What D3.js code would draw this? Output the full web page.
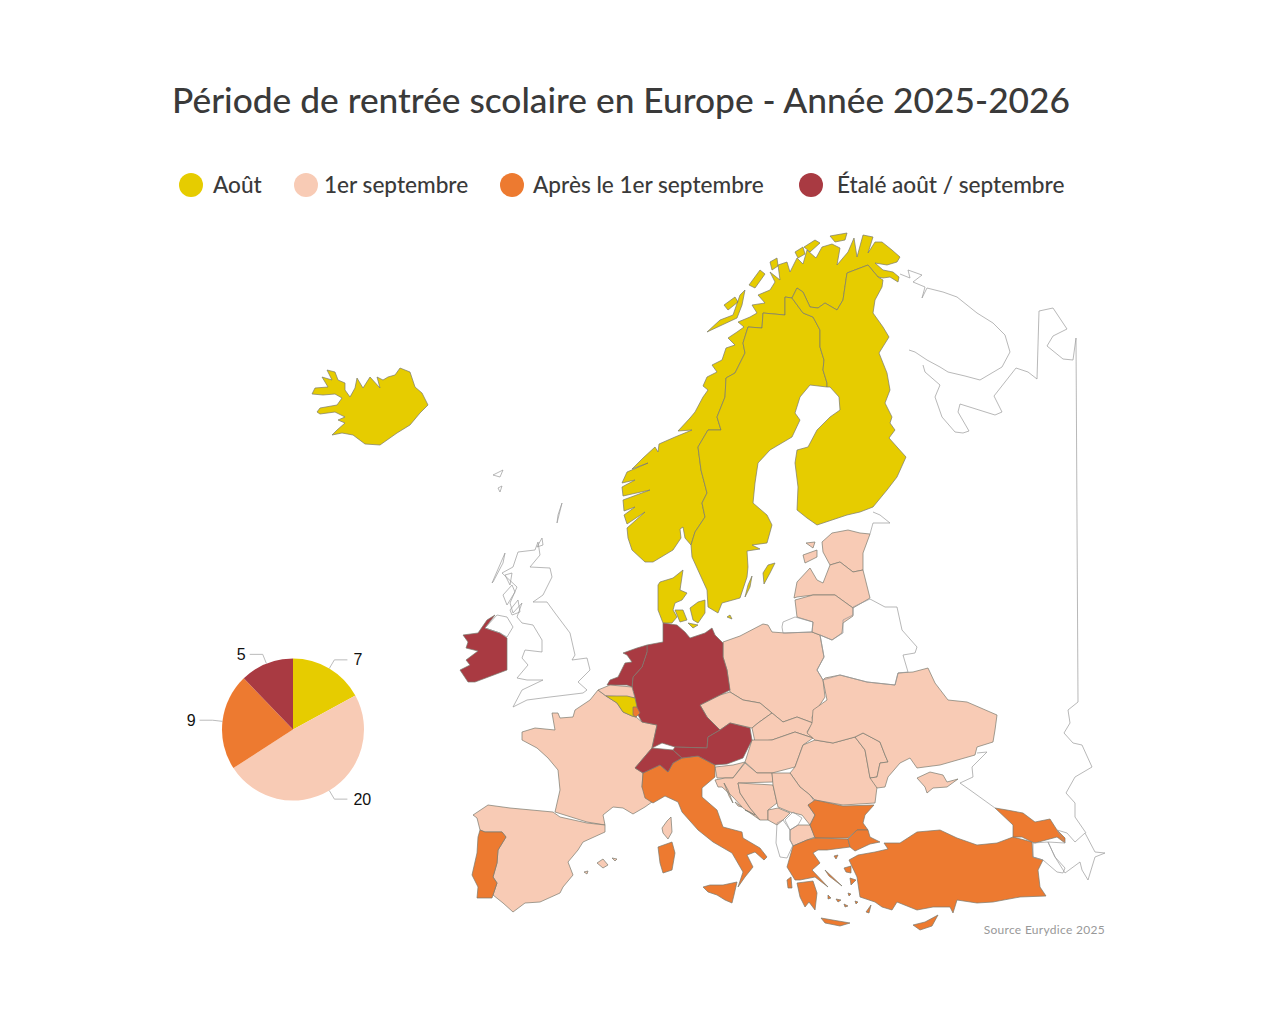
<!DOCTYPE html>
<html lang="fr">
<head>
<meta charset="utf-8">
<title>Période de rentrée scolaire en Europe</title>
<script src="https://cdn.jsdelivr.net/npm/d3@7"></script>
<style>
  html, body { margin: 0; background: #fff; }
  svg { display: block; }
  text { font-family: Lato, "Noto Sans", sans-serif; }
</style>
</head>
<body>
<svg id="chart" width="1280" height="1024"></svg>
<script>
// categories and pie values
const categories = ["Août", "1er septembre", "Après le 1er septembre", "Étalé août / septembre"];
const categoryColors = ["#e6cc00", "#f8cbb5", "#ed7a30", "#a93a42"];
const pieValues = [7, 20, 9, 5];

// country outlines, in map units
const norway = [[868,265],[847,273],[843,300],[837,310],[825,303],[818,308],[810,307],[803,292],[797,288],[792,298],[785,297],[785,315],[763,313],[762,328],[748,327],[743,343],[745,353],[735,373],[726,378],[725,397],[717,417],[721,430],[708,430],[698,447],[701,470],[707,493],[702,503],[705,517],[695,532],[691,545],[685,538],[683,527],[680,529],[681,538],[673,550],[653,562],[645,562],[632,550],[628,538],[627,528],[645,512],[627,524],[624,515],[635,507],[624,511],[623,500],[650,490],[623,496],[622,487],[635,480],[622,483],[627,472],[648,463],[632,469],[643,458],[655,447],[658,452],[659,444],[675,437],[692,430],[678,431],[690,418],[695,412],[703,397],[708,390],[703,386],[707,377],[717,372],[712,365],[722,360],[726,348],[735,345],[728,338],[737,332],[744,327],[738,322],[750,317],[757,313],[752,305],[765,303],[758,295],[770,290],[775,282],[770,272],[780,280],[778,265],[787,262],[790,272],[797,258],[803,264],[807,250],[816,258],[822,247],[832,244],[840,248],[837,265],[848,252],[854,238],[857,257],[863,235],[873,237],[868,253],[875,242],[882,242],[892,250],[900,257],[897,262],[887,265],[875,263],[883,270],[893,272],[899,277],[898,282],[890,277],[883,278],[878,277]];
const norwayIslands = [[[707,332],[720,320],[733,315],[740,295],[745,290],[742,305],[737,318],[722,325]], [[724,305],[735,297],[738,302],[728,310]], [[749,285],[760,270],[765,274],[755,288]], [[804,247],[815,240],[820,243],[810,252]], [[830,236],[847,233],[845,240],[835,242]], [[770,262],[777,258],[778,266],[772,270]], [[795,252],[803,247],[805,254],[798,258]]];
const sweden = [[792,298],[803,313],[813,317],[820,330],[820,347],[824,360],[823,370],[827,383],[827,387],[810,385],[800,397],[795,413],[800,420],[792,437],[770,450],[758,463],[755,483],[753,503],[767,515],[772,525],[767,543],[752,545],[760,549],[747,551],[748,567],[747,577],[740,598],[722,603],[718,613],[708,607],[707,590],[692,557],[691,545],[695,532],[705,517],[702,503],[707,493],[701,470],[698,447],[708,430],[721,430],[717,417],[725,397],[726,378],[735,373],[745,353],[743,343],[748,327],[762,328],[763,313],[785,315],[785,297]];
const swedenIslands = [[[764,584],[763,573],[768,565],[775,563],[770,573]], [[745,597],[748,585],[752,576],[750,587]]];
const finland = [[868,265],[878,277],[883,280],[882,287],[875,300],[873,313],[883,327],[889,337],[879,353],[887,373],[890,390],[885,403],[892,417],[890,423],[895,430],[889,438],[906,457],[897,477],[887,490],[873,507],[860,512],[847,515],[817,525],[807,518],[797,510],[798,487],[795,463],[797,450],[808,447],[817,430],[830,417],[840,410],[839,397],[830,387],[827,387],[827,383],[823,370],[824,360],[820,347],[820,330],[813,317],[803,313],[792,298],[797,288],[803,292],[810,307],[818,308],[825,303],[837,310],[843,300],[847,273]];
const iceland = [[350,397],[345,390],[345,383],[338,380],[335,372],[327,370],[332,380],[322,377],[328,387],[315,388],[312,394],[323,395],[335,394],[342,398],[337,405],[320,408],[317,412],[320,414],[335,412],[345,417],[338,420],[345,423],[337,430],[332,435],[342,433],[353,435],[365,444],[380,445],[397,433],[410,425],[420,413],[428,405],[422,393],[415,387],[410,372],[400,368],[395,375],[388,377],[383,380],[377,377],[380,388],[370,377],[363,388],[357,378],[355,388]];
const denmark = [[[658,585],[660,582],[673,578],[683,570],[680,590],[687,593],[682,600],[675,603],[673,610],[677,617],[672,623],[663,623],[658,610]], [[690,608],[698,602],[705,600],[705,613],[698,623],[693,620]], [[675,610],[683,610],[687,620],[680,622]], [[688,623],[698,625],[693,628]], [[727,617],[730,615],[732,619]]];
const germany = [[663,623],[677,625],[685,632],[690,638],[705,633],[712,628],[715,635],[723,643],[723,657],[727,670],[730,690],[720,695],[700,705],[707,717],[720,730],[708,737],[707,748],[675,747],[662,743],[652,748],[657,725],[642,722],[638,715],[635,698],[632,687],[633,677],[642,667],[647,652],[647,645],[663,642]];
const netherlands = [[647,645],[637,648],[623,653],[627,655],[632,662],[625,663],[623,667],[618,677],[610,680],[607,685],[615,685],[627,685],[632,687],[633,677],[642,667],[647,652]];
const flanders = [[598,690],[610,685],[632,687],[635,698],[627,697],[606,696]];
const belgium = [[606,696],[627,696],[635,698],[637,707],[636,717],[632,716],[623,712],[617,703]];
const eastBelgium = [[633,707],[637,707],[640,713],[636,717],[633,715]];
const france = [[598,690],[606,696],[617,703],[623,712],[632,716],[636,717],[642,722],[657,725],[652,748],[635,768],[643,773],[642,787],[652,802],[645,807],[633,814],[623,808],[613,807],[603,815],[605,825],[587,822],[555,812],[560,790],[558,770],[548,758],[537,748],[522,740],[522,732],[535,728],[555,730],[552,713],[558,713],[560,718],[573,717],[575,710],[590,700]];
const corsica = [[662,828],[667,821],[671,817],[672,832],[668,839],[663,833]];
const spain = [[473,815],[488,805],[510,808],[553,812],[560,817],[587,823],[605,825],[605,832],[583,842],[578,850],[568,862],[573,875],[563,887],[560,893],[540,902],[525,903],[513,912],[503,903],[493,895],[497,883],[493,877],[497,863],[498,850],[506,837],[502,832],[485,832],[480,830],[477,818]];
const balearics = [[[597,863],[603,859],[608,865],[603,868]], [[612,858],[617,859],[615,861]], [[584,872],[588,871],[587,874]]];
const portugal = [[480,830],[485,832],[502,832],[506,837],[498,850],[497,863],[493,877],[497,883],[493,895],[492,898],[477,898],[478,887],[472,875],[477,853],[478,837]];
const italy = [[643,773],[660,765],[668,772],[673,763],[682,758],[698,756],[715,765],[715,777],[702,788],[702,797],[717,810],[723,827],[742,832],[743,838],[760,848],[767,857],[764,860],[755,852],[747,855],[753,867],[745,877],[738,887],[743,872],[732,853],[713,842],[698,830],[682,812],[678,802],[665,796],[653,803],[645,798],[642,787]];
const sardinia = [[658,847],[672,842],[675,853],[672,870],[663,873],[660,863]];
const sicily = [[703,887],[710,885],[723,885],[737,882],[734,895],[732,903],[725,900],[717,895],[708,892]];
const switzerland = [[652,748],[673,750],[682,758],[673,763],[668,772],[660,765],[643,773],[635,768]];
const austria = [[673,750],[675,747],[707,748],[708,737],[720,730],[730,723],[750,728],[752,740],[747,750],[743,758],[727,764],[715,765],[698,756],[682,758]];
const poland = [[723,642],[740,636],[763,624],[768,625],[772,632],[785,633],[812,632],[820,635],[824,657],[817,670],[823,680],[825,697],[812,717],[813,723],[797,717],[783,722],[772,713],[760,703],[743,700],[730,692],[727,670],[723,657]];
const czechia = [[730,692],[743,700],[760,703],[772,713],[758,723],[752,728],[730,723],[720,730],[707,717],[700,705],[720,695]];
const slovakia = [[772,713],[783,722],[797,717],[813,723],[807,732],[813,738],[795,732],[772,740],[755,742],[752,728],[758,723]];
const hungary = [[752,740],[772,740],[795,732],[813,738],[803,745],[795,767],[772,773],[757,773],[745,762]];
const romania = [[815,740],[833,743],[855,737],[865,750],[870,777],[877,787],[875,803],[843,805],[815,800],[810,795],[800,787],[790,773],[795,767],[803,745]];
const moldova = [[855,737],[863,733],[880,742],[885,755],[888,762],[880,763],[877,777],[870,778],[865,750]];
const ukraine = [[825,678],[840,675],[867,682],[895,685],[898,673],[913,672],[928,668],[935,683],[948,700],[967,702],[997,715],[995,730],[993,742],[977,747],[975,755],[940,765],[917,768],[910,758],[900,763],[888,777],[885,787],[877,788],[870,778],[877,777],[880,763],[888,762],[885,755],[880,742],[863,733],[855,737],[833,743],[815,740],[807,733],[812,723],[813,710],[827,700],[823,680]];
const crimea = [[917,778],[930,772],[943,775],[947,782],[958,779],[947,787],[933,788],[927,793],[925,787]];
const slovenia = [[715,767],[733,765],[745,762],[733,778],[725,778],[717,778]];
const croatia = [[715,780],[725,778],[733,778],[745,763],[757,773],[772,773],[773,782],[738,783],[740,793],[750,808],[760,820],[743,808],[733,797],[722,787],[718,787]];
const dalmatianIslands = [[[724,783],[728,790],[733,803],[729,796]], [[745,810],[755,815],[750,812]], [[735,802],[742,807],[738,806]]];
const bosnia = [[738,783],[773,785],[777,803],[768,810],[768,820],[760,820],[750,808],[740,793]];
const serbia = [[772,773],[790,773],[800,787],[810,795],[815,802],[808,805],[815,815],[810,825],[802,815],[790,812],[778,807],[777,803],[773,785]];
const montenegro = [[768,810],[778,808],[790,813],[783,820],[777,825],[768,820]];
const northMacedonia = [[790,830],[798,825],[810,825],[815,837],[807,840],[793,846],[790,840]];
const bulgaria = [[815,800],[843,806],[874,805],[865,815],[863,823],[868,830],[857,830],[848,838],[815,838],[810,825],[815,815],[808,805]];
const greece = [[793,846],[807,840],[815,838],[848,839],[850,847],[827,850],[818,850],[813,853],[820,863],[812,870],[828,887],[815,877],[800,880],[795,880],[787,867]];
const peloponnese = [[797,883],[813,881],[817,893],[815,910],[809,902],[805,907],[800,897]];
const crete = [[821,918],[850,923],[840,926],[825,923]];
const aegeanIslands = [[[825,870],[842,886],[829,876]], [[844,868],[851,866],[851,873],[846,872]], [[850,878],[856,880],[851,885]], [[834,856],[838,855],[836,859]], [[848,893],[851,894],[849,896]], [[836,899],[841,900],[838,902]], [[855,901],[858,902],[856,904]], [[866,912],[871,905],[869,913]], [[828,895],[831,898],[828,899]], [[844,904],[848,906],[845,907]], [[787,880],[791,877],[792,888],[788,888]]];
const turkeyEurope = [[848,839],[857,830],[868,830],[870,837],[880,842],[870,844],[855,851],[850,847]];
const turkeyAsia = [[884,843],[900,843],[917,832],[940,830],[957,838],[977,845],[997,843],[1013,837],[1032,842],[1033,857],[1043,860],[1038,870],[1040,887],[1046,896],[1020,897],[993,902],[977,903],[957,900],[953,913],[950,907],[933,907],[917,910],[897,902],[892,910],[882,907],[875,902],[860,897],[857,877],[849,860],[858,855],[875,852],[888,849]];
const cyprus = [[913,925],[925,922],[938,915],[932,926],[920,930]];
const georgia = [[995,808],[1007,810],[1023,813],[1035,822],[1050,819],[1057,830],[1065,838],[1065,843],[1057,837],[1035,843],[1032,842],[1022,837],[1013,837],[1013,825]];
const estonia = [[822,542],[832,533],[848,530],[860,533],[870,534],[863,553],[863,570],[853,572],[840,562],[830,565],[823,552]];
const estoniaIslands = [[[803,555],[817,550],[817,557],[805,563]], [[806,543],[815,542],[813,548]]];
const latvia = [[794,598],[797,582],[810,568],[817,580],[823,583],[830,565],[840,562],[853,572],[863,570],[870,598],[853,608],[835,595],[813,595],[797,597]];
const lithuania = [[795,600],[813,595],[835,595],[853,608],[853,616],[843,623],[842,633],[832,640],[820,635],[812,632],[813,622],[797,617]];
const ireland = [[495,615],[485,628],[500,633],[507,638],[507,670],[475,682],[468,682],[460,670],[470,665],[466,660],[478,651],[466,648],[468,642],[463,635],[478,633],[487,620]];

// countries outside the scheme, unfilled
const belarus = [[853,607],[870,599],[885,607],[897,607],[902,630],[917,647],[915,653],[903,655],[908,672],[898,673],[895,685],[867,682],[840,675],[823,680],[817,670],[824,657],[820,635],[832,640],[843,633],[843,620],[853,615]];
const kaliningrad = [[783,622],[795,617],[813,622],[812,632],[783,633],[782,627]];
const greatBritain = [[518,552],[535,550],[538,542],[540,555],[530,567],[550,568],[552,577],[543,595],[533,602],[547,602],[555,613],[570,633],[575,655],[572,660],[587,658],[590,670],[578,682],[587,690],[583,693],[550,697],[527,700],[513,707],[522,690],[543,680],[527,680],[517,678],[528,665],[522,658],[525,650],[542,652],[542,640],[533,625],[522,623],[517,617],[522,603],[513,613],[510,603],[517,587],[502,573],[513,567]];
const northernIreland = [[497,615],[507,617],[513,627],[507,637],[500,633],[485,628]];
const northSeaIslands = [[[492,583],[505,553],[503,563],[493,582]], [[537,547],[542,538],[543,545]], [[557,523],[562,503],[558,515]], [[493,475],[503,470],[500,477]], [[498,488],[502,486],[500,492]], [[505,575],[512,573],[510,585]], [[503,595],[512,585],[515,592],[507,605]], [[510,610],[518,600],[520,612],[512,615]]];
const kosovo = [[785,820],[793,812],[802,818],[798,825],[790,830]];
const albania = [[777,823],[783,820],[790,830],[790,840],[793,845],[787,858],[780,857],[776,843]];
const armenia = [[1033,843],[1048,842],[1055,857],[1065,868],[1063,873],[1057,872],[1043,860],[1033,857]];
const azerbaijan = [[1048,842],[1065,843],[1057,830],[1067,833],[1075,842],[1085,833],[1095,852],[1105,853],[1095,857],[1088,880],[1082,870],[1080,862],[1065,873],[1055,857]];

// coast and border pieces of Russia, drawn as open lines
const russiaKola = [[900,274],[910,278],[908,270],[922,275],[913,282],[925,287],[922,298],[927,288],[943,292],[957,297],[977,313],[993,323],[1005,335],[1010,352],[1002,367],[980,380],[965,376],[948,372],[940,367],[927,360],[915,352],[909,350]];
const russiaWhiteSea = [[923,365],[925,372],[940,385],[935,397],[942,417],[955,432],[963,433],[969,431],[958,412],[960,404],[995,415],[1002,412],[994,396],[1016,368],[1028,372],[1037,379],[1039,311],[1053,308],[1067,329],[1053,336],[1047,346],[1063,359],[1073,360],[1076,338],[1078,702],[1068,710],[1070,723],[1064,733],[1073,743],[1082,745],[1092,767],[1075,777],[1066,793],[1075,803],[1075,817],[1086,833]];
const russiaBaltic = [[870,534],[873,523],[890,523],[880,515],[873,512]];
const russiaBlackSea = [[977,753],[987,752],[972,767],[973,777],[960,783],[970,790],[995,808]];

// name, category index (null = not in the scheme), rings
const countries = [
  ["Norvège", 0, [norway, ...norwayIslands]],
  ["Suède", 0, [sweden, ...swedenIslands]],
  ["Finlande", 0, [finland]],
  ["Islande", 0, [iceland]],
  ["Danemark", 0, denmark],
  ["France", 1, [france, corsica]],
  ["Espagne", 1, [spain, ...balearics]],
  ["Pologne", 1, [poland]],
  ["Tchéquie", 1, [czechia]],
  ["Slovaquie", 1, [slovakia]],
  ["Hongrie", 1, [hungary]],
  ["Roumanie", 1, [romania]],
  ["Moldavie", 1, [moldova]],
  ["Ukraine", 1, [ukraine, crimea]],
  ["Slovénie", 1, [slovenia]],
  ["Croatie", 1, [croatia, ...dalmatianIslands]],
  ["Bosnie", 1, [bosnia]],
  ["Serbie", 1, [serbia]],
  ["Monténégro", 1, [montenegro]],
  ["Macédoine du Nord", 1, [northMacedonia]],
  ["Estonie", 1, [estonia, ...estoniaIslands]],
  ["Lettonie", 1, [latvia]],
  ["Lituanie", 1, [lithuania]],
  ["Portugal", 2, [portugal]],
  ["Italie", 2, [italy, sardinia, sicily]],
  ["Bulgarie", 2, [bulgaria]],
  ["Grèce", 2, [greece, peloponnese, crete, ...aegeanIslands]],
  ["Turquie", 2, [turkeyEurope, turkeyAsia, cyprus]],
  ["Géorgie", 2, [georgia]],
  ["Allemagne", 3, [germany]],
  ["Pays-Bas", 3, [netherlands]],
  ["Suisse", 3, [switzerland]],
  ["Autriche", 3, [austria]],
  ["Irlande", 3, [ireland]],
  ["Belgique flamande", 1, [flanders]],
  ["Belgique francophone", 0, [belgium]],
  ["Belgique germanophone", 2, [eastBelgium]],
  ["Biélorussie", null, [belarus]],
  ["Kaliningrad", null, [kaliningrad]],
  ["Royaume-Uni", null, [greatBritain, northernIreland, ...northSeaIslands]],
  ["Kosovo", null, [kosovo]],
  ["Albanie", null, [albania]],
  ["Arménie", null, [armenia]],
  ["Azerbaïdjan", null, [azerbaijan]]
];
const russiaLines = [russiaKola, russiaWhiteSea, russiaBaltic, russiaBlackSea];

const svg = d3.select("#chart");
const color = d3.scaleOrdinal(d3.range(categories.length), categoryColors);

// title
svg.append("text")
  .attr("x", 172)
  .attr("y", 113)
  .attr("font-size", 35.3)
  .attr("font-weight", 500)
  .attr("fill", "#3a3a3a")
  .text("Période de rentrée scolaire en Europe - Année 2025-2026");

// legend
const legendCircleX = [191, 306, 512, 811];
const legendLabelX = [213, 324, 533, 837];
const legend = svg.append("g");
legend.selectAll("circle")
  .data(categories)
  .enter().append("circle")
  .attr("cx", (d, i) => legendCircleX[i])
  .attr("cy", 185)
  .attr("r", 12)
  .attr("fill", (d, i) => color(i));
legend.selectAll("text")
  .data(categories)
  .enter().append("text")
  .attr("x", (d, i) => legendLabelX[i])
  .attr("y", 193)
  .attr("font-size", 22.6)
  .attr("font-weight", 500)
  .attr("fill", "#3a3a3a")
  .text(d => d);

// map
const path = d3.geoPath(d3.geoIdentity());
const closeRing = ring => [...ring, ring[0]];
const countryFeatures = countries.map(([name, category, rings]) => ({
  type: "Feature",
  properties: { name, category },
  geometry: { type: "MultiPolygon", coordinates: rings.map(r => [closeRing(r)]) }
}));

svg.append("g").selectAll("path")
  .data(countryFeatures)
  .enter().append("path")
  .attr("d", path)
  .attr("fill", d => d.properties.category === null ? "none" : color(d.properties.category))
  .attr("stroke", d => d.properties.category === null ? "#999" : "#7a7a6e")
  .attr("stroke-width", 0.7)
  .attr("stroke-linejoin", "round");

svg.append("g").selectAll("path")
  .data(russiaLines)
  .enter().append("path")
  .attr("d", d => path({ type: "LineString", coordinates: d }))
  .attr("fill", "none")
  .attr("stroke", "#999")
  .attr("stroke-width", 0.7);

// source
svg.append("text")
  .attr("x", 1105)
  .attr("y", 934)
  .attr("text-anchor", "end")
  .attr("font-size", 12)
  .attr("letter-spacing", 0.3)
  .attr("fill", "#999")
  .text("Source Eurydice 2025");

// pie
const pieRadius = 71;
const pieGroup = svg.append("g").attr("transform", "translate(293,729.5)");
const pie = d3.pie().sort(null)(pieValues);
const arc = d3.arc().innerRadius(0).outerRadius(pieRadius);
const elbowArc = d3.arc().innerRadius(pieRadius + 10).outerRadius(pieRadius + 10);
const edgeArc = d3.arc().innerRadius(pieRadius).outerRadius(pieRadius);

pieGroup.selectAll("path.slice")
  .data(pie)
  .enter().append("path")
  .attr("class", "slice")
  .attr("d", arc)
  .attr("fill", (d, i) => color(i));

pieGroup.selectAll("polyline")
  .data(pie)
  .enter().append("polyline")
  .attr("fill", "none")
  .attr("stroke", "#aaa")
  .attr("stroke-width", 0.8)
  .attr("points", d => {
    const a = edgeArc.centroid(d);
    const b = elbowArc.centroid(d);
    const side = b[0] > 0 ? 1 : -1;
    return [a, b, [b[0] + side * 13, b[1]]].join(" ");
  });

pieGroup.selectAll("text")
  .data(pie)
  .enter().append("text")
  .attr("x", d => {
    const b = elbowArc.centroid(d);
    return b[0] + (b[0] > 0 ? 19 : -17);
  })
  .attr("y", d => elbowArc.centroid(d)[1] + 5.5)
  .attr("text-anchor", d => elbowArc.centroid(d)[0] > 0 ? "start" : "end")
  .attr("font-size", 16)
  .attr("fill", "#111")
  .style("font-family", "'Liberation Sans', Arial, sans-serif")
  .text(d => d.data);
</script>
</body>
</html>
